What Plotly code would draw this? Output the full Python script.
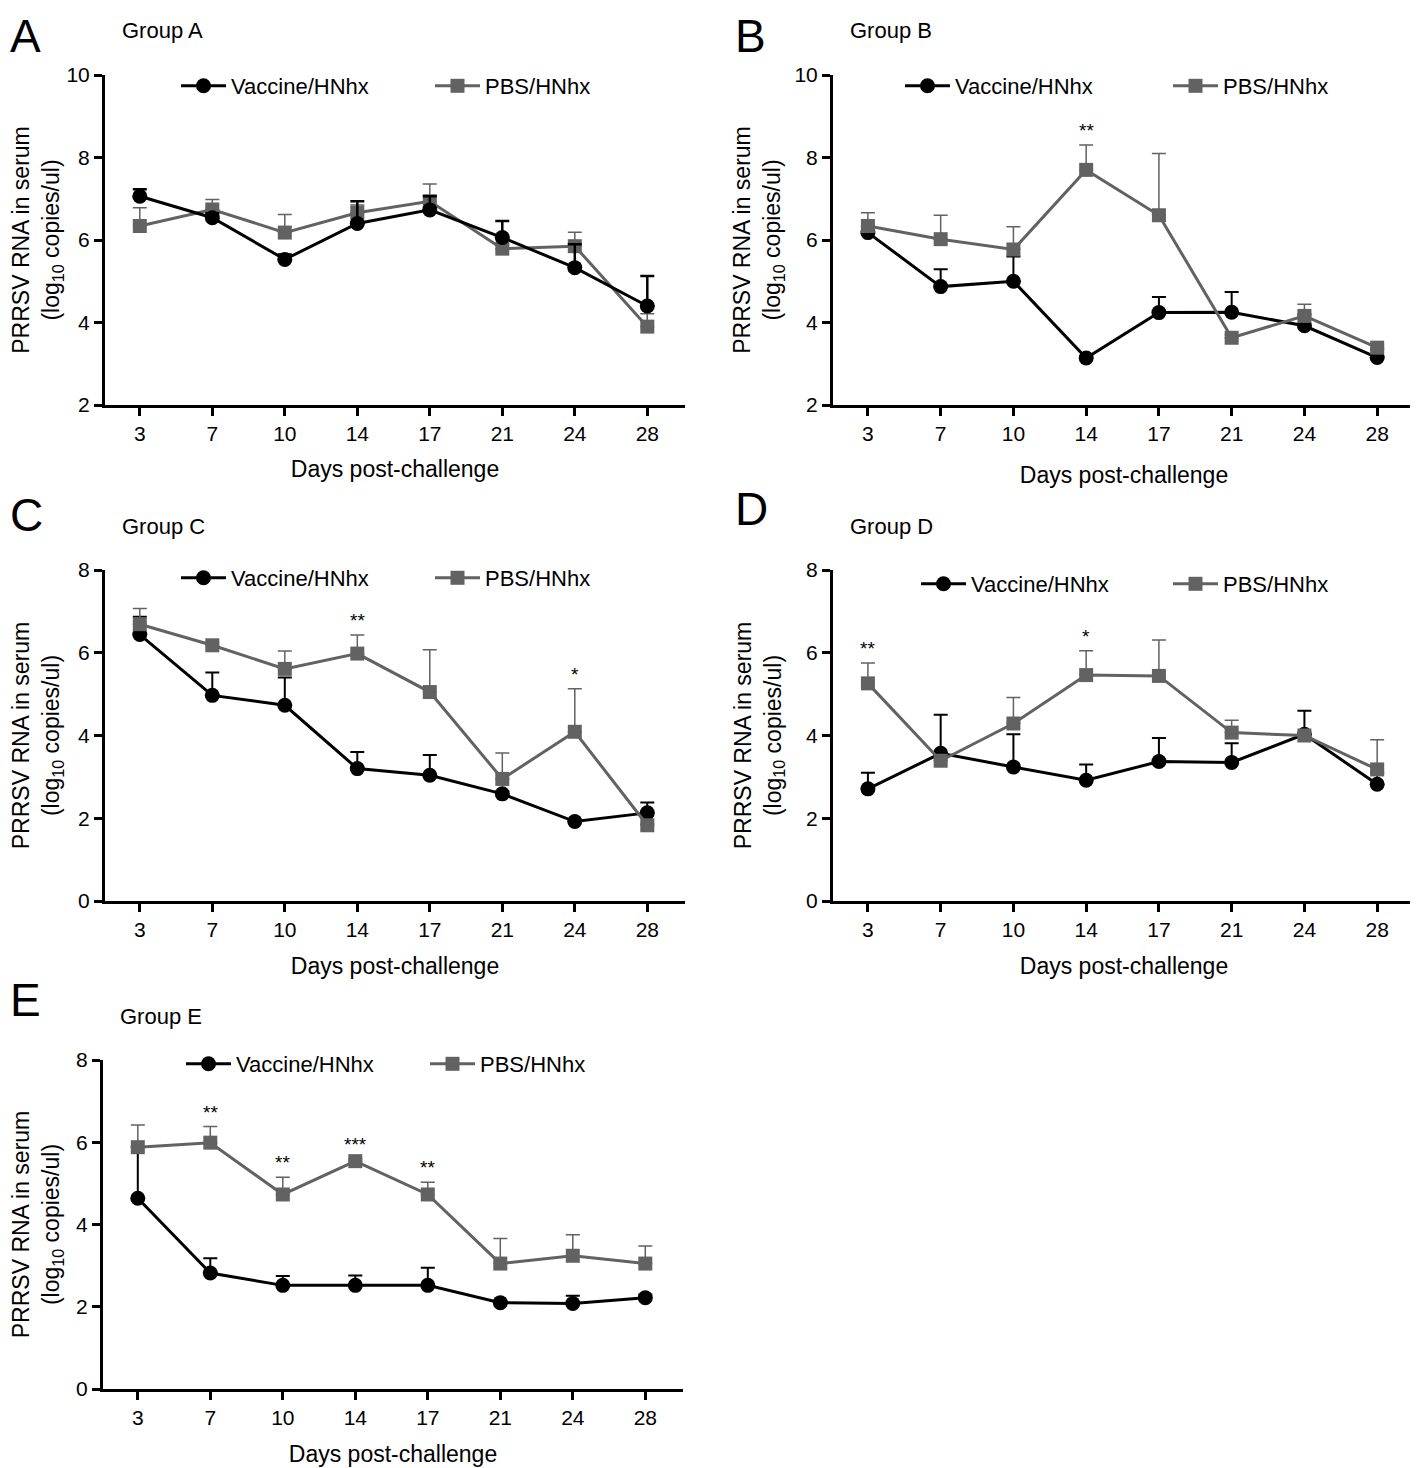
import plotly.graph_objects as go

# x categories (days post-challenge)
days = ["3", "7", "10", "14", "17", "21", "24", "28"]

# Group A: mean and upper SEM, log10 copies/ul
a_vaccine = [7.06, 6.54, 5.53, 6.40, 6.73, 6.06, 5.33, 4.40]
a_vaccine_sem = [0.17, 0.11, 0.12, 0.54, 0.33, 0.40, 0.57, 0.73]
a_pbs = [6.34, 6.74, 6.18, 6.66, 6.94, 5.79, 5.85, 3.90]
a_pbs_sem = [0.44, 0.24, 0.44, 0.19, 0.42, 0.10, 0.34, 0.31]
a_stars = []

# Group B
b_vaccine = [6.18, 4.87, 5.00, 3.14, 4.24, 4.25, 3.92, 3.15]
b_vaccine_sem = [0.16, 0.42, 0.60, 0.05, 0.38, 0.49, 0.28, 0.20]
b_pbs = [6.34, 6.02, 5.77, 7.70, 6.60, 3.63, 4.16, 3.39]
b_pbs_sem = [0.32, 0.58, 0.55, 0.60, 1.50, 0.07, 0.28, 0.06]
b_stars = [("14", "**")]

# Group C
c_vaccine = [6.44, 4.97, 4.73, 3.20, 3.04, 2.59, 1.92, 2.13]
c_vaccine_sem = [0.43, 0.55, 0.67, 0.40, 0.49, 0.06, 0.03, 0.25]
c_pbs = [6.69, 6.18, 5.61, 5.98, 5.05, 2.95, 4.09, 1.83]
c_pbs_sem = [0.38, 0.07, 0.43, 0.45, 1.02, 0.63, 1.04, 0.03]
c_stars = [("14", "**"), ("24", "*")]

# Group D
d_vaccine = [2.71, 3.57, 3.24, 2.92, 3.37, 3.35, 4.03, 2.82]
d_vaccine_sem = [0.39, 0.93, 0.79, 0.38, 0.57, 0.46, 0.57, 0.28]
d_pbs = [5.26, 3.39, 4.29, 5.46, 5.44, 4.07, 4.00, 3.18]
d_pbs_sem = [0.49, 0.05, 0.63, 0.59, 0.87, 0.30, 0.05, 0.72]
d_stars = [("3", "**"), ("14", "*")]

# Group E
e_vaccine = [4.64, 2.82, 2.52, 2.52, 2.52, 2.10, 2.08, 2.22]
e_vaccine_sem = [1.25, 0.36, 0.23, 0.24, 0.43, 0.03, 0.19, 0.08]
e_pbs = [5.88, 5.99, 4.73, 5.54, 4.73, 3.05, 3.24, 3.05]
e_pbs_sem = [0.54, 0.39, 0.42, 0.06, 0.30, 0.61, 0.51, 0.43]
e_stars = [("7", "**"), ("10", "**"), ("14", "***"), ("17", "**")]

W, H = 1418, 1468
OFF = 8  # page body margin
FONT = "Arial, Liberation Sans, sans-serif"
GRAY = "#626262"


def fx(p):
    return max(p - OFF, 0) / W


def fy(p):
    return 1 - (p - OFF) / H


# letter, title, data, plot box px (left, right, top, bottom), y range,
# legend marker px (vaccine x, pbs x, y), letter centre y, x-title standoff, vaccine drawn on top
panels = [
    ("A", "Group A", a_vaccine, a_vaccine_sem, a_pbs, a_pbs_sem, a_stars,
     (105, 685, 75, 405), [2, 10], (198, 452, 86), None, 17, True),
    ("B", "Group B", b_vaccine, b_vaccine_sem, b_pbs, b_pbs_sem, b_stars,
     (833, 1415, 75, 405), [2, 10], (922, 1190, 86), None, 23, False),
    ("C", "Group C", c_vaccine, c_vaccine_sem, c_pbs, c_pbs_sem, c_stars,
     (105, 685, 570, 901), [0, 8], (198, 452, 578), 515, 18, False),
    ("D", "Group D", d_vaccine, d_vaccine_sem, d_pbs, d_pbs_sem, d_stars,
     (833, 1415, 570, 901), [0, 8], (938, 1190, 584), 509, 18, False),
    ("E", "Group E", e_vaccine, e_vaccine_sem, e_pbs, e_pbs_sem, e_stars,
     (103, 683, 1060, 1389), [0, 8], (203, 447, 1064), 1000, 18, False),
]

fig = go.Figure()
annotations = []
layout = {}

for i, (letter, title, vac, vac_sem, pbs, pbs_sem, stars, box, yr, leg, letter_y, xstand, vac_top) in enumerate(panels, start=1):
    suffix = "" if i == 1 else str(i)
    left, right, top, bottom = box
    leg_vac = "legend" if i == 1 else "legend" + str(2 * i - 1)
    leg_pbs = "legend" + str(2 * i)

    vac_trace = go.Scatter(
        x=days, y=vac, name="Vaccine/HNhx", mode="lines+markers",
        line=dict(color="black", width=3),
        marker=dict(symbol="circle", size=15, color="black"),
        error_y=dict(type="data", symmetric=False, array=vac_sem,
                     arrayminus=[0] * len(vac_sem), color="black",
                     thickness=2.5 if i == 1 else 2, width=7),
        xaxis="x" + suffix, yaxis="y" + suffix, legend=leg_vac, showlegend=True,
    )
    pbs_trace = go.Scatter(
        x=days, y=pbs, name="PBS/HNhx", mode="lines+markers",
        line=dict(color=GRAY, width=3),
        marker=dict(symbol="square", size=14, color=GRAY),
        error_y=dict(type="data", symmetric=False, array=pbs_sem,
                     arrayminus=[0] * len(pbs_sem), color=GRAY,
                     thickness=1.5, width=7),
        xaxis="x" + suffix, yaxis="y" + suffix, legend=leg_pbs, showlegend=True,
    )
    if vac_top:
        fig.add_trace(pbs_trace)
        fig.add_trace(vac_trace)
    else:
        fig.add_trace(vac_trace)
        fig.add_trace(pbs_trace)

    layout["xaxis" + suffix] = dict(
        domain=[fx(left), fx(right)], anchor="y" + suffix, type="category",
        range=[-0.48, 7.52], showline=True, linecolor="black", linewidth=3,
        ticks="outside", ticklen=8, tickwidth=2.5, tickcolor="black",
        showgrid=False, zeroline=False, automargin=False,
        tickfont=dict(size=21, color="black", family=FONT),
        title=dict(text="Days post-challenge", standoff=xstand,
                   font=dict(size=23, color="black", family=FONT)),
    )
    layout["yaxis" + suffix] = dict(
        domain=[fy(bottom), fy(top)], anchor="x" + suffix, range=yr, dtick=2,
        showline=True, linecolor="black", linewidth=3,
        ticks="outside", ticklen=8, tickwidth=2.5, tickcolor="black",
        showgrid=False, zeroline=False, automargin=False,
        tickfont=dict(size=21, color="black", family=FONT),
        title=dict(text="PRRSV RNA in serum<br>(log<sub>10</sub> copies/ul)",
                   standoff=8 if yr[1] == 10 else 19,
                   font=dict(size=23, color="black", family=FONT)),
    )

    vx, px_, ly = leg
    for name, mx in ((leg_vac, vx), (leg_pbs, px_)):
        layout[name] = dict(
            visible=True, orientation="h", x=fx(mx - 22), y=fy(ly),
            xanchor="left", yanchor="middle",
            xref="paper", yref="paper", itemwidth=45,
            bgcolor="rgba(0,0,0,0)", font=dict(size=22, color="black", family=FONT),
            itemclick=False, itemdoubleclick=False,
        )

    # panel letter and group title
    if letter_y is None:
        annotations.append(dict(
            text=letter, x=fx(left - 100), y=1, xref="paper", yref="paper",
            xanchor="left", yanchor="top", showarrow=False,
            font=dict(size=46, color="black", family=FONT),
        ))
    else:
        annotations.append(dict(
            text=letter, x=fx(left - 100), y=fy(letter_y), xref="paper", yref="paper",
            xanchor="left", yanchor="middle", showarrow=False,
            font=dict(size=46, color="black", family=FONT),
        ))
    annotations.append(dict(
        text=title, x=fx(left + 15), y=fy(top - 44), xref="paper", yref="paper",
        xanchor="left", yanchor="middle", showarrow=False,
        font=dict(size=22, color="black", family=FONT),
    ))

    # significance marks above PBS error bars
    for day, mark in stars:
        k = days.index(day)
        annotations.append(dict(
            text=mark, x=k, y=pbs[k] + pbs_sem[k], xref="x" + suffix, yref="y" + suffix,
            xanchor="center", yanchor="bottom", yshift=2, showarrow=False,
            font=dict(size=19, color="black", family=FONT),
        ))

fig.update_layout(
    width=W, height=H,
    margin=dict(l=0, r=0, t=0, b=0),
    paper_bgcolor="white", plot_bgcolor="white",
    font=dict(family=FONT, color="black"),
    showlegend=True,
    annotations=annotations,
    **layout,
)

fig.write_html("out.html")
